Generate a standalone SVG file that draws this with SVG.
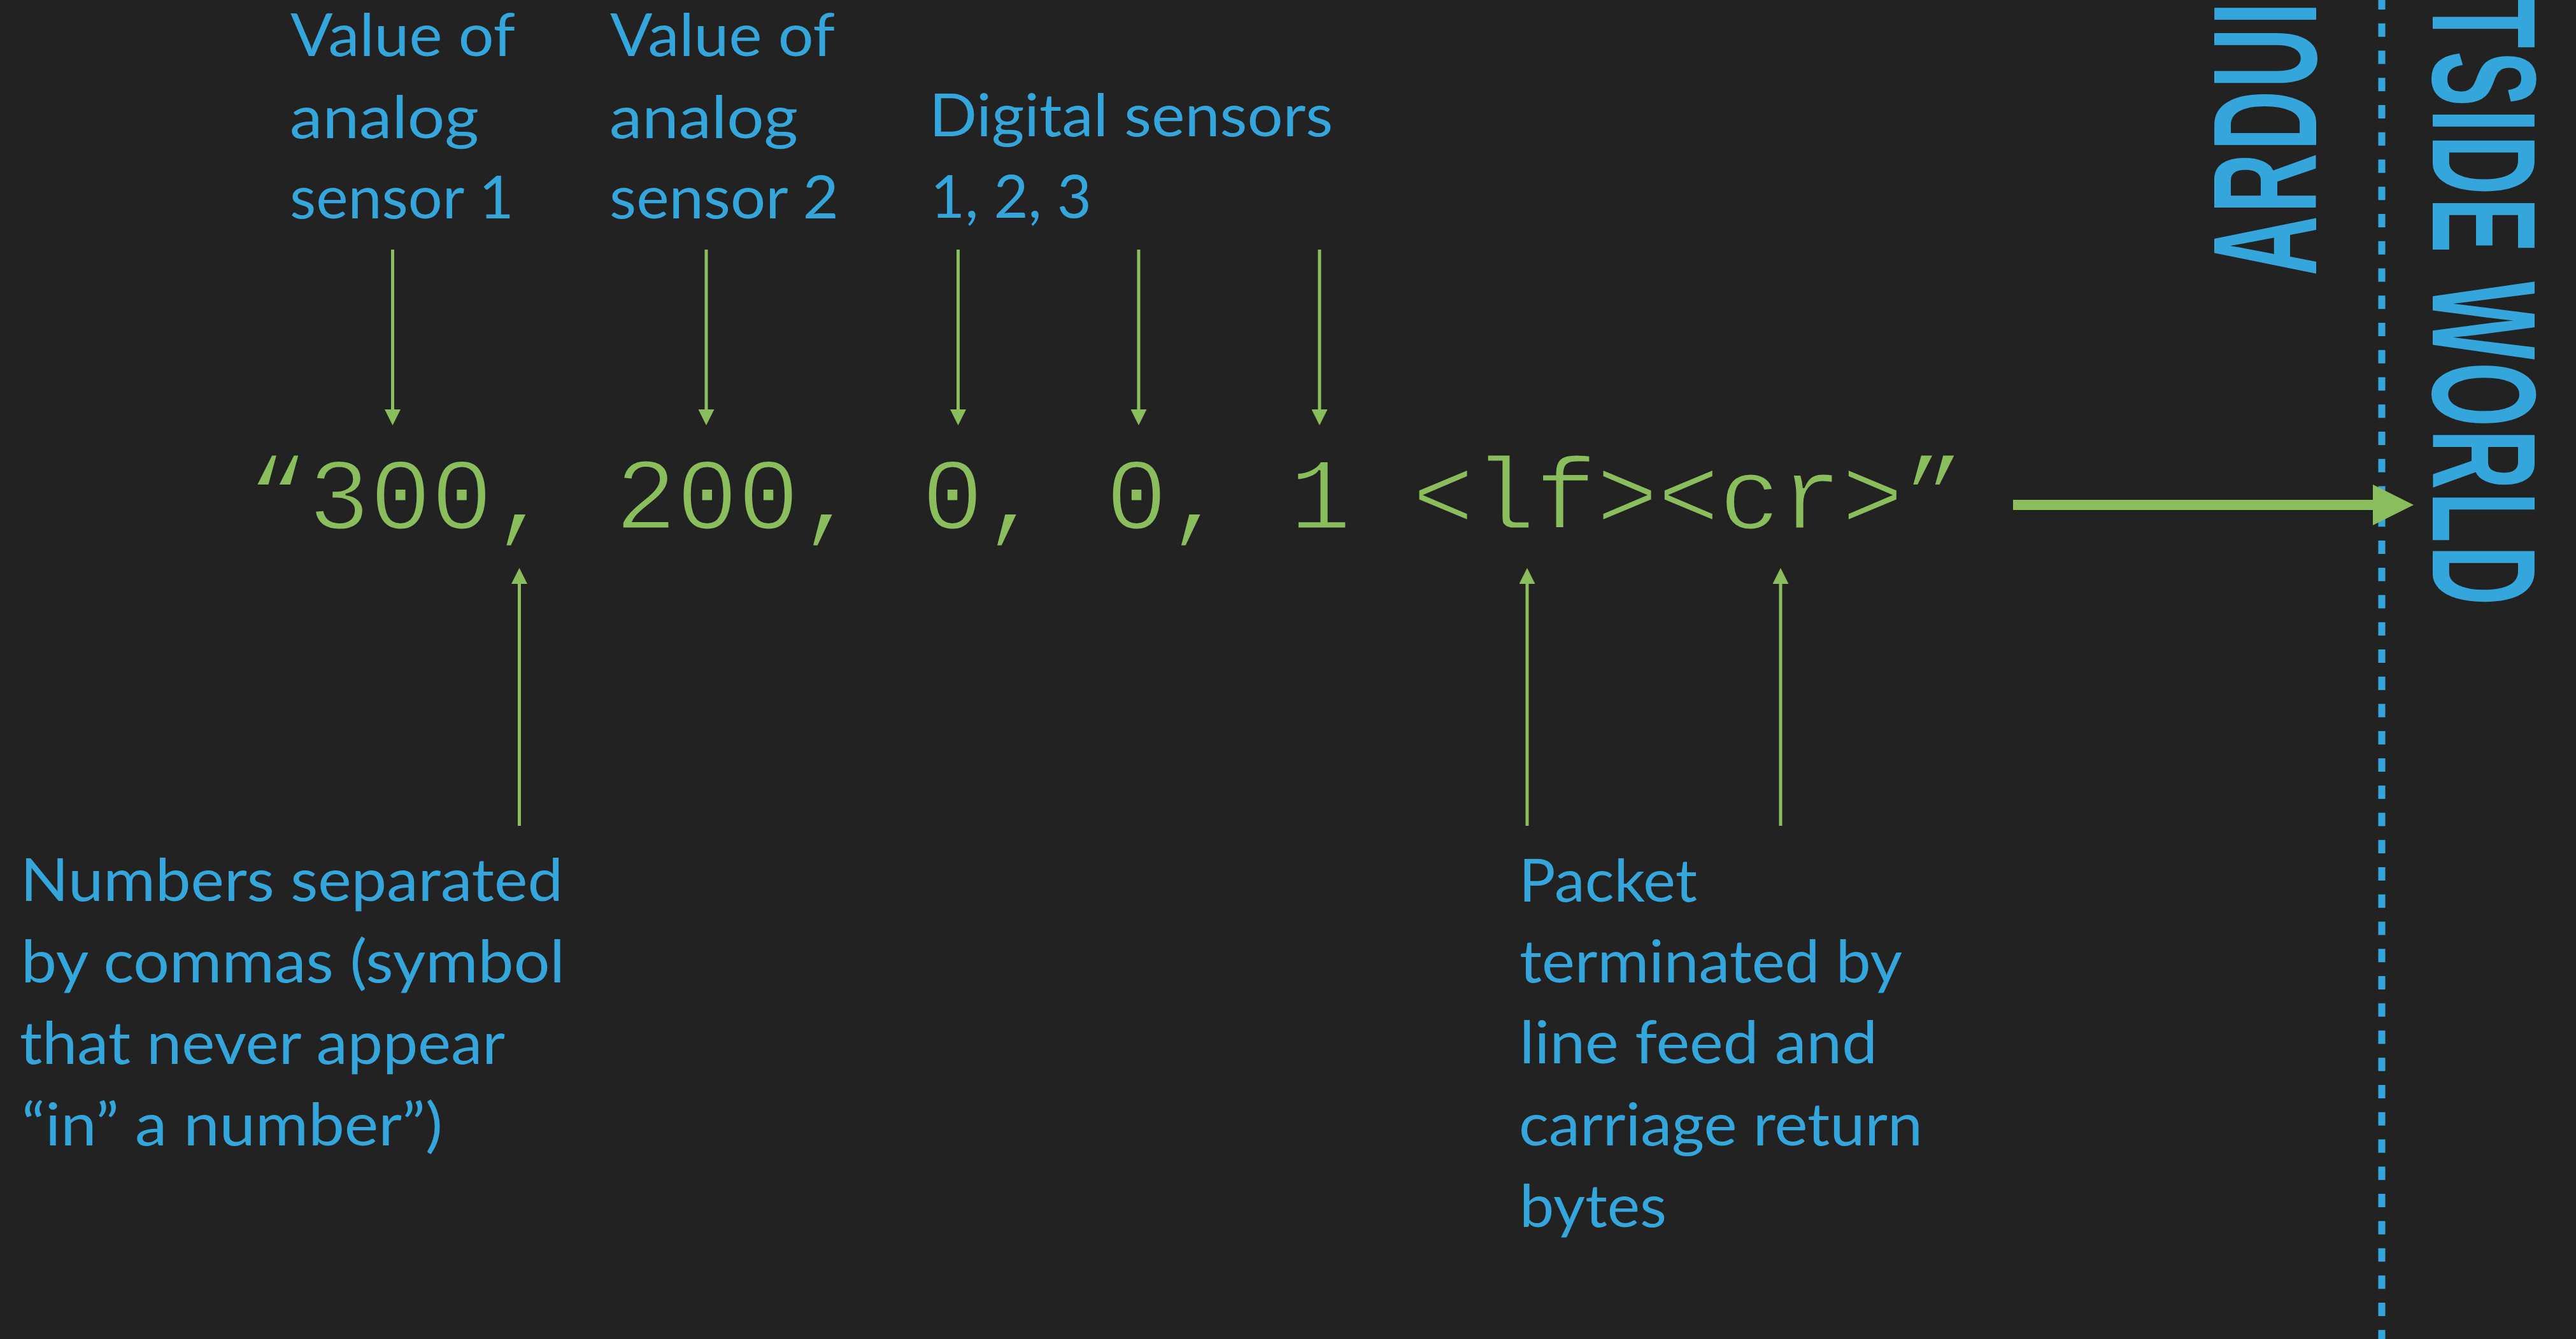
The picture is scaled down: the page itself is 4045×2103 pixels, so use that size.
<svg xmlns="http://www.w3.org/2000/svg" width="4045" height="2103" viewBox="0 0 4045 2103">
<style>
.lbl{font-family:Lato,"Noto Sans","Liberation Sans",sans-serif;font-size:93px;fill:#34A6DC}
.mono{font-family:"Liberation Mono","Courier New",monospace;font-size:160.5px;fill:#8ABE5C;stroke:#222222;stroke-width:3}
.big{font-family:"Liberation Sans",Arial,sans-serif;font-weight:bold;font-size:232px;fill:#34A6DC;letter-spacing:8px}
.thin{stroke:#8ABE5C;stroke-width:5;fill:none}
</style>
<defs>
<marker id="ah" viewBox="0 0 25 25" markerWidth="25" markerHeight="25" refX="0" refY="12.5" orient="auto" markerUnits="userSpaceOnUse">
<path d="M0,0 L25,12.5 L0,25 Z" fill="#8ABE5C"/>
</marker>
<marker id="ahBig" viewBox="0 0 64 64" markerWidth="64" markerHeight="64" refX="0" refY="32" orient="auto" markerUnits="userSpaceOnUse">
<path d="M0,0 L64,32 L0,64 Z" fill="#8ABE5C"/>
</marker>
</defs>
<rect x="0" y="0" width="4045" height="2103" fill="#222222"/>

<g id="boundary">
<line x1="3740" y1="-6" x2="3740" y2="2110" stroke="#34A6DC" stroke-width="11" stroke-dasharray="21 21.75"/>
</g>

<g id="arduino-label">
<text class="big" transform="translate(3637,433) rotate(-90) scale(0.56,1)">ARDUINO</text>
</g>
<g id="outside-label">
<text class="big" text-anchor="end" transform="translate(3820,955) rotate(90) scale(0.56,1)">OUTSIDE WORLD</text>
</g>

<g id="packet">
<text class="mono" x="388" y="830">“300, 200, 0, 0, 1 &lt;lf&gt;&lt;cr&gt;”</text>
</g>

<g id="label-analog1">
<text class="lbl" x="456" y="88" textLength="353" lengthAdjust="spacingAndGlyphs">Value of</text>
<text class="lbl" x="455" y="217" textLength="297" lengthAdjust="spacingAndGlyphs">analog</text>
<text class="lbl" x="455" y="343" textLength="352" lengthAdjust="spacingAndGlyphs">sensor 1</text>
</g>
<g id="label-analog2">
<text class="lbl" x="958" y="88" textLength="353" lengthAdjust="spacingAndGlyphs">Value of</text>
<text class="lbl" x="957" y="217" textLength="296" lengthAdjust="spacingAndGlyphs">analog</text>
<text class="lbl" x="957" y="343" textLength="360" lengthAdjust="spacingAndGlyphs">sensor 2</text>
</g>
<g id="label-digital">
<text class="lbl" x="1459" y="214" textLength="634" lengthAdjust="spacingAndGlyphs">Digital sensors</text>
<text class="lbl" x="1461" y="342" textLength="253" lengthAdjust="spacingAndGlyphs">1, 2, 3</text>
</g>
<g id="label-commas">
<text class="lbl" x="32" y="1415" textLength="852" lengthAdjust="spacingAndGlyphs">Numbers separated</text>
<text class="lbl" x="33" y="1543" textLength="854" lengthAdjust="spacingAndGlyphs">by commas (symbol</text>
<text class="lbl" x="31" y="1671" textLength="762" lengthAdjust="spacingAndGlyphs">that never appear</text>
<text class="lbl" x="34" y="1799" textLength="661" lengthAdjust="spacingAndGlyphs">“in” a number”)</text>
</g>
<g id="label-terminator">
<text class="lbl" x="2385" y="1416" textLength="280" lengthAdjust="spacingAndGlyphs">Packet</text>
<text class="lbl" x="2386" y="1543" textLength="601" lengthAdjust="spacingAndGlyphs">terminated by</text>
<text class="lbl" x="2386" y="1670" textLength="562" lengthAdjust="spacingAndGlyphs">line feed and</text>
<text class="lbl" x="2385" y="1799" textLength="634" lengthAdjust="spacingAndGlyphs">carriage return</text>
<text class="lbl" x="2386" y="1927" textLength="231" lengthAdjust="spacingAndGlyphs">bytes</text>
</g>

<g id="connectors">
<line class="thin" x1="616.5" y1="392" x2="616.5" y2="643" marker-end="url(#ah)"/>
<line class="thin" x1="1109" y1="392" x2="1109" y2="643" marker-end="url(#ah)"/>
<line class="thin" x1="1504.5" y1="392" x2="1504.5" y2="643" marker-end="url(#ah)"/>
<line class="thin" x1="1788" y1="392" x2="1788" y2="643" marker-end="url(#ah)"/>
<line class="thin" x1="2072" y1="392" x2="2072" y2="643" marker-end="url(#ah)"/>
<line class="thin" x1="815.5" y1="1297" x2="815.5" y2="917" marker-end="url(#ah)"/>
<line class="thin" x1="2398" y1="1297" x2="2398" y2="917" marker-end="url(#ah)"/>
<line class="thin" x1="2796" y1="1297" x2="2796" y2="917" marker-end="url(#ah)"/>
<line x1="3161" y1="793" x2="3726" y2="793" stroke="#8ABE5C" stroke-width="16" marker-end="url(#ahBig)"/>
</g>
</svg>
